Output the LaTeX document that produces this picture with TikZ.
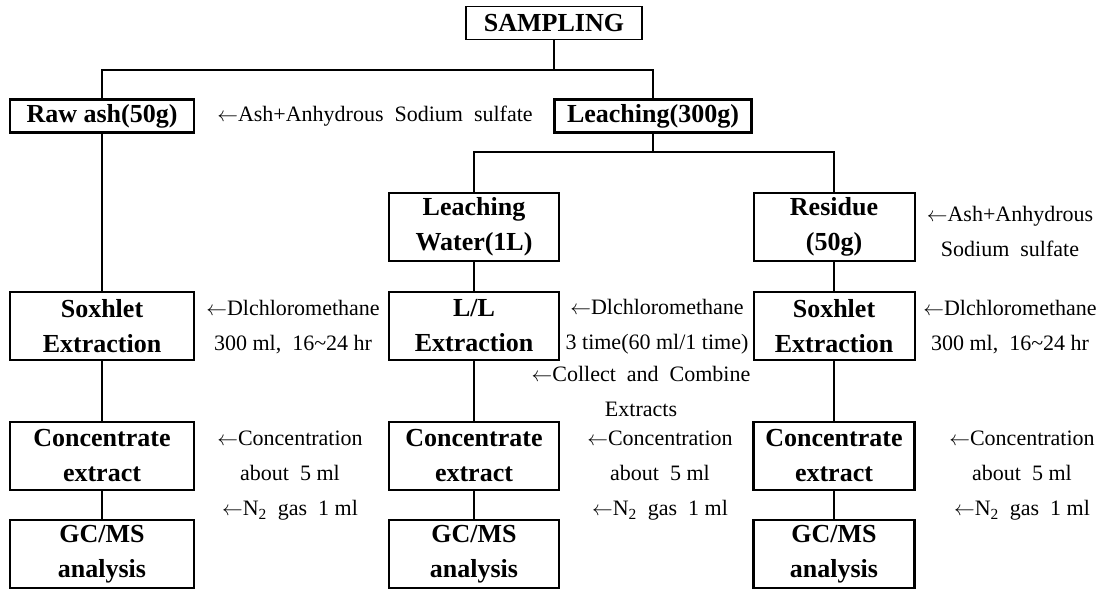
\documentclass[tikz,border=0pt]{standalone}
\usepackage{fontspec}
\setmainfont{Liberation Serif}
\usepackage{tikz}
\usetikzlibrary{positioning,calc}
\newcommand{\inarrow}{$\leftarrow$}
\tikzset{
	flow/.style={x=1pt,y=-1pt,line width=1.3pt},
	stage/.style={draw,line width=2pt,align=center,inner sep=0pt,
		minimum width=184pt,minimum height=68pt,
		font=\bfseries\fontsize{26}{35}\selectfont},
	stage thick/.style={stage,line width=2.8pt,minimum height=33pt},
	note/.style={align=center,inner sep=0pt,font=\fontsize{22}{35}\selectfont}
}

\begin{document}
\begin{tikzpicture}[flow]
	\useasboundingbox (0,0) rectangle (1104,590);
	
	\node[stage,minimum width=176pt,minimum height=33pt,line width=1.8pt] (samp) at (554,23) {SAMPLING};
	\node[stage thick] (raw) at (102,116) {Raw ash(50g)};
	\node[stage thick,minimum width=197pt] (leach) at (653,116) {Leaching(300g)};
	
	\node[stage,minimum width=170pt] (water) at (474,227) {Leaching\\Water(1L)};
	\node[stage,minimum width=161pt] (resid) at (834,227) {Residue\\(50g)};
	
	\node[stage] (sox1) at (102,326) {Soxhlet\\Extraction};
	\node[stage,minimum width=170pt] (ll) at (474,326) {L/L\\Extraction};
	\node[stage,minimum width=161pt] (sox2) at (834,326) {Soxhlet\\Extraction};
	
	\node[stage] (conc1) at (102,456) {Concentrate\\extract};
	\node[stage,minimum width=170pt] (conc2) at (474,456) {Concentrate\\extract};
	\node[stage,minimum width=161pt,line width=2.6pt] (conc3) at (834,456) {Concentrate\\extract};
	
	\node[stage] (gc1) at (102,554) {GC/MS\\analysis};
	\node[stage,minimum width=170pt] (gc2) at (474,554) {GC/MS\\analysis};
	\node[stage,minimum width=161pt,line width=2.6pt] (gc3) at (834,554) {GC/MS\\analysis};
	
	\node[note] (ash1) at (375,116) {\inarrow Ash+Anhydrous\ \ Sodium\ \ sulfate};
	\node[note] (ash2) at (1010,231) {\inarrow Ash+Anhydrous\\Sodium\ \ sulfate};
	\node[note] (dcm1) at (293,327) {\inarrow Dlchloromethane\\300 ml,\ \ 16{\char"7E}24 hr};
	\node[note] (dcm2) at (657,327) {\inarrow Dlchloromethane\\3 time(60 ml/1 time)};
	\node[note] (dcm3) at (1010,327) {\inarrow Dlchloromethane\\300 ml,\ \ 16{\char"7E}24 hr};
	\node[note] (coll) at (641,391) {\inarrow Collect\ \ and\ \ Combine\\Extracts};
	\node[note] (cn1) at (290,476) {\inarrow Concentration\\about\ \ 5 ml\\\inarrow N\textsubscript{2}\ \ gas\ \ 1 ml};
	\node[note] (cn2) at (660,476) {\inarrow Concentration\\about\ \ 5 ml\\\inarrow N\textsubscript{2}\ \ gas\ \ 1 ml};
	\node[note] (cn3) at (1022,476) {\inarrow Concentration\\about\ \ 5 ml\\\inarrow N\textsubscript{2}\ \ gas\ \ 1 ml};
	
	\coordinate (split1) at (554,70);
	\coordinate (split2) at (653,152);
	
	\draw (samp.south) -- (split1);
	\draw (raw.north) |- (split1) -| (leach.north);
	\draw (leach.south) -- (split2);
	\draw (water.north) |- (split2) -| (resid.north);
	
	\draw (raw) -- (sox1);
	\draw (water) -- (ll);
	\draw (resid) -- (sox2);
	\draw (sox1) -- (conc1);
	\draw (ll) -- (conc2);
	\draw (sox2) -- (conc3);
	\draw (conc1) -- (gc1);
	\draw (conc2) -- (gc2);
	\draw (conc3) -- (gc3);
\end{tikzpicture}
\end{document}
